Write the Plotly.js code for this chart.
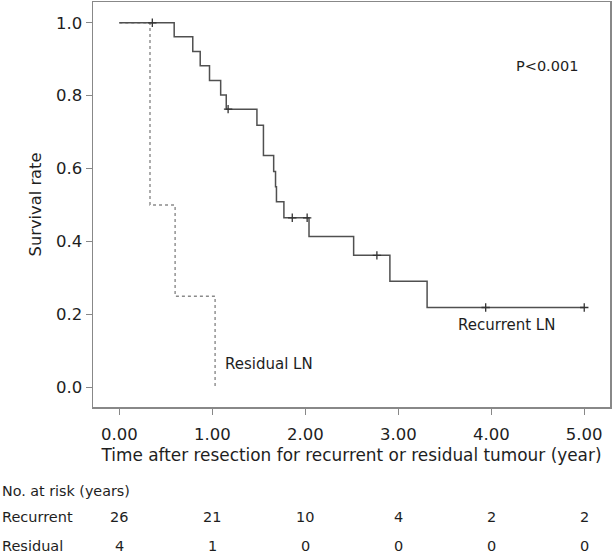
<!DOCTYPE html>
<html>
<head>
<meta charset="utf-8">
<script src="https://cdn.plot.ly/plotly-3.0.1.min.js"></script>
<style>html,body{margin:0;padding:0;background:#fff;}#chart{width:613px;height:554px;}</style>
</head>
<body>
<div id="chart"></div>
<script>
// Kaplan-Meier step data
const recurrentTime = [0, 0.59, 0.79, 0.87, 0.97, 1.09, 1.15, 1.48, 1.55, 1.66, 1.68, 1.69, 1.77, 2.04, 2.52, 2.91, 3.31, 5.00];
const recurrentSurv = [1.0, 0.962, 0.921, 0.882, 0.842, 0.802, 0.763, 0.719, 0.636, 0.592, 0.550, 0.509, 0.465, 0.414, 0.362, 0.291, 0.219, 0.219];
const recurrentCensorTime = [0.355, 1.17, 1.86, 2.02, 2.77, 3.94, 5.00];
const recurrentCensorSurv = [1.0, 0.763, 0.465, 0.465, 0.362, 0.219, 0.219];
const residualTime = [0, 0.33, 0.60, 1.03];
const residualSurv = [1.0, 0.5, 0.25, 0.0];
// Numbers at risk
const riskTimes = [0, 1, 2, 3, 4, 5];
const recurrentRisk = [26, 21, 10, 4, 2, 2];
const residualRisk = [4, 1, 0, 0, 0, 0];
const riskRowLabels = ["Recurrent", "Residual"];

const FONT = "DejaVu Sans, sans-serif";
const TXT = "#1e1e1e";

const traces = [
  {x: residualTime, y: residualSurv, mode: "lines", line: {shape: "hv", color: "#8a8a8a", width: 1.4, dash: "dot"}, hoverinfo: "skip"},
  {x: recurrentTime, y: recurrentSurv, mode: "lines", line: {shape: "hv", color: "#505050", width: 1.5}, hoverinfo: "skip"},
  {x: recurrentCensorTime, y: recurrentCensorSurv, mode: "markers",
   marker: {symbol: "cross-thin", size: 6, color: "#333", line: {color: "#333", width: 1.3}}, hoverinfo: "skip"}
];

const ann = [
  {x: 4.596, y: 0.881, xref: "x", yref: "y", text: "P<0.001", showarrow: false, font: {family: FONT, size: 14.5, color: TXT}},
  {x: 4.169, y: 0.172, xref: "x", yref: "y", text: "Recurrent LN", showarrow: false, font: {family: FONT, size: 15, color: TXT}},
  {x: 1.11, y: 0.064, xref: "x", yref: "y", xanchor: "left", text: "Residual LN", showarrow: false, font: {family: FONT, size: 15, color: TXT}},
  {x: -0.1799, y: -0.2077, xref: "paper", yref: "paper", xanchor: "left", yanchor: "middle", text: "No. at risk (years)", showarrow: false, font: {family: FONT, size: 14.3, color: TXT}}
];
const rowY = [-0.2718, -0.3433];
const rowVals = [recurrentRisk, residualRisk];
riskRowLabels.forEach((lab, r) => {
  ann.push({x: -0.1799, y: rowY[r], xref: "paper", yref: "paper", xanchor: "left", yanchor: "middle", text: lab, showarrow: false, font: {family: FONT, size: 14.5, color: TXT}});
  riskTimes.forEach((t, i) => {
    ann.push({x: t, y: rowY[r], xref: "x", yref: "paper", xanchor: "center", yanchor: "middle", text: String(rowVals[r][i]), showarrow: false, font: {family: FONT, size: 14.5, color: TXT}});
  });
});

const layout = {
  width: 613, height: 554,
  margin: {l: 93, r: 3, t: 2, b: 146.5},
  paper_bgcolor: "#fff", plot_bgcolor: "#fff",
  showlegend: false,
  font: {family: FONT, color: TXT},
  xaxis: {
    range: [-0.283, 5.277], tickvals: riskTimes, tickformat: ".2f",
    showgrid: false, zeroline: false,
    showline: true, mirror: true, linecolor: "#888", linewidth: 1.5,
    ticks: "outside", ticklen: 6, tickcolor: "#888", tickwidth: 1.3,
    ticklabelstandoff: 6,
    tickfont: {family: FONT, size: 16.5, color: TXT},
    title: {text: "Time after resection for recurrent or residual tumour (year)", font: {family: FONT, size: 16.9, color: TXT}, standoff: 6}
  },
  yaxis: {
    range: [-0.054, 1.057], dtick: 0.2, tick0: 0, tickformat: ".1f",
    showgrid: false, zeroline: false,
    showline: true, mirror: true, linecolor: "#888", linewidth: 1.5,
    ticks: "outside", ticklen: 6, tickcolor: "#888", tickwidth: 1.3,
    tickfont: {family: FONT, size: 16.5, color: TXT},
    title: {text: "Survival rate", font: {family: FONT, size: 16.3, color: TXT}, standoff: 10}
  },
  annotations: ann
};

Plotly.newPlot("chart", traces, layout, {staticPlot: true, displayModeBar: false});
</script>
</body>
</html>
